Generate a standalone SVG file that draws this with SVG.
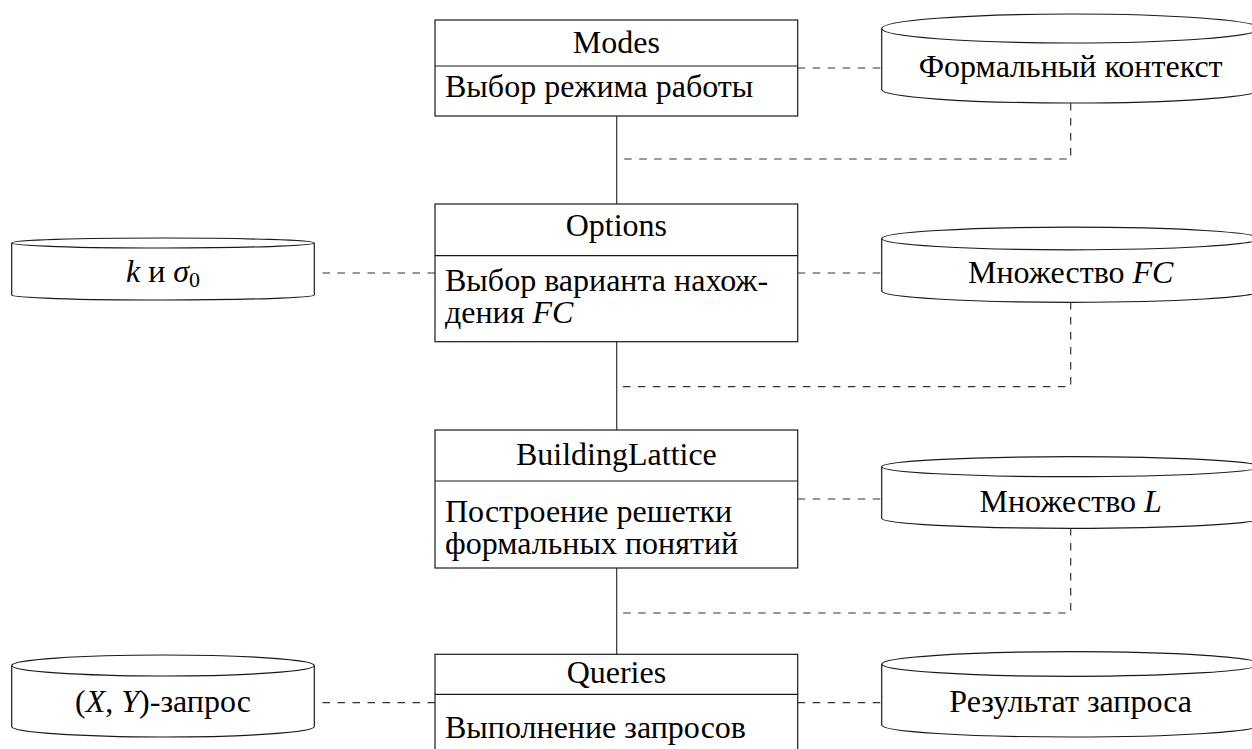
<svg xmlns="http://www.w3.org/2000/svg" width="1252" height="749" viewBox="0 0 1252 749">
<style>
.box{fill:#fff;stroke:#1a1a1a;stroke-width:1.2}
.cyl{fill:#fff;stroke:#1a1a1a;stroke-width:1.2}
.t{font-family:"Liberation Serif","Times New Roman",serif;font-size:32px;fill:#000}
.c{text-anchor:middle}
.i{font-style:italic}
.solid{fill:none;stroke:#333;stroke-width:1.2}
.dash{fill:none;stroke:#333;stroke-width:1.2;stroke-dasharray:7.5 7.5}
</style>
<rect width="1252" height="749" fill="#fff"/>
<g id="connectors">
<path class="solid" d="M616.7,116V204M616.7,342V430M616.7,568V654"/>
<path class="dash" d="M797.7,68H881.7"/>
<path class="dash" d="M1070.7,103V159H622"/>
<path class="dash" d="M435,273H314.3"/>
<path class="dash" d="M797.7,273H881.7"/>
<path class="dash" d="M1070.7,302V386.7H622"/>
<path class="dash" d="M797.7,499H881.7"/>
<path class="dash" d="M1070.7,528V613H622"/>
<path class="dash" d="M435,702.7H314.3"/>
<path class="dash" d="M797.7,702.7H881.7"/>
</g>
<g id="modes">
<rect class="box" x="435" y="20" width="362.7" height="96"/>
<line class="box" x1="435" y1="66" x2="797.7" y2="66"/>
<text class="t c" x="616.4" y="52.5">Modes</text>
<text class="t" x="445" y="97">Выбор режима работы</text>
</g>
<g id="options">
<rect class="box" x="435" y="204" width="362.7" height="137.7"/>
<line class="box" x1="435" y1="255.7" x2="797.7" y2="255.7"/>
<text class="t c" x="616.4" y="235.5">Options</text>
<text class="t" x="445" y="291">Выбор варианта нахож-</text>
<text class="t" x="445" y="323">дения <tspan class="i">FC</tspan></text>
</g>
<g id="buildinglattice">
<rect class="box" x="435" y="430" width="362.7" height="138"/>
<line class="box" x1="435" y1="481" x2="797.7" y2="481"/>
<text class="t c" x="616.4" y="464.5">BuildingLattice</text>
<text class="t" x="445" y="521.5">Построение решетки</text>
<text class="t" x="445" y="553.5">формальных понятий</text>
</g>
<g id="queries">
<rect class="box" x="435" y="654.3" width="362.7" height="110"/>
<line class="box" x1="435" y1="694.3" x2="797.7" y2="694.3"/>
<text class="t c" x="616.4" y="683">Queries</text>
<text class="t" x="445" y="738">Выполнение запросов</text>
</g>
<g id="formal-context">
<path class="cyl" d="M881.7,28.5V89.5A189,13.5 0 0 0 1259.7,89.5V28.5"/>
<ellipse class="cyl" cx="1070.7" cy="28.5" rx="189" ry="14.5"/>
<text class="t c" x="1070.7" y="76.7">Формальный контекст</text>
</g>
<g id="set-fc">
<path class="cyl" d="M881.7,238.5V291A189,11.3 0 0 0 1259.7,291V238.5"/>
<ellipse class="cyl" cx="1070.7" cy="238.5" rx="189" ry="11.3"/>
<text class="t c" x="1070.7" y="283.3">Множество <tspan class="i">FC</tspan></text>
</g>
<g id="set-l">
<path class="cyl" d="M881.7,466.7V518.3A189,10 0 0 0 1259.7,518.3V466.7"/>
<ellipse class="cyl" cx="1070.7" cy="466.7" rx="189" ry="10"/>
<text class="t c" x="1070.7" y="511.7">Множество <tspan class="i">L</tspan></text>
</g>
<g id="query-result">
<path class="cyl" d="M881.7,664V725A189,12 0 0 0 1259.7,725V664"/>
<ellipse class="cyl" cx="1070.7" cy="664" rx="189" ry="12.3"/>
<text class="t c" x="1070.7" y="711.7">Результат запроса</text>
</g>
<g id="k-sigma">
<path class="cyl" d="M11.7,243V295A151.3,5 0 0 0 314.3,295V243"/>
<ellipse class="cyl" cx="163" cy="243" rx="151.3" ry="5"/>
<text class="t c" x="163" y="281.7"><tspan class="i">k</tspan> и <tspan class="i">σ</tspan><tspan font-size="22" dy="5">0</tspan></text>
</g>
<g id="xy-query">
<path class="cyl" d="M11.7,665.5V726.5A151.3,10.5 0 0 0 314.3,726.5V665.5"/>
<ellipse class="cyl" cx="163" cy="665.5" rx="151.3" ry="10.5"/>
<text class="t c" x="163" y="711.7">(<tspan class="i">X</tspan>, <tspan class="i">Y</tspan>)-запрос</text>
</g>
</svg>
